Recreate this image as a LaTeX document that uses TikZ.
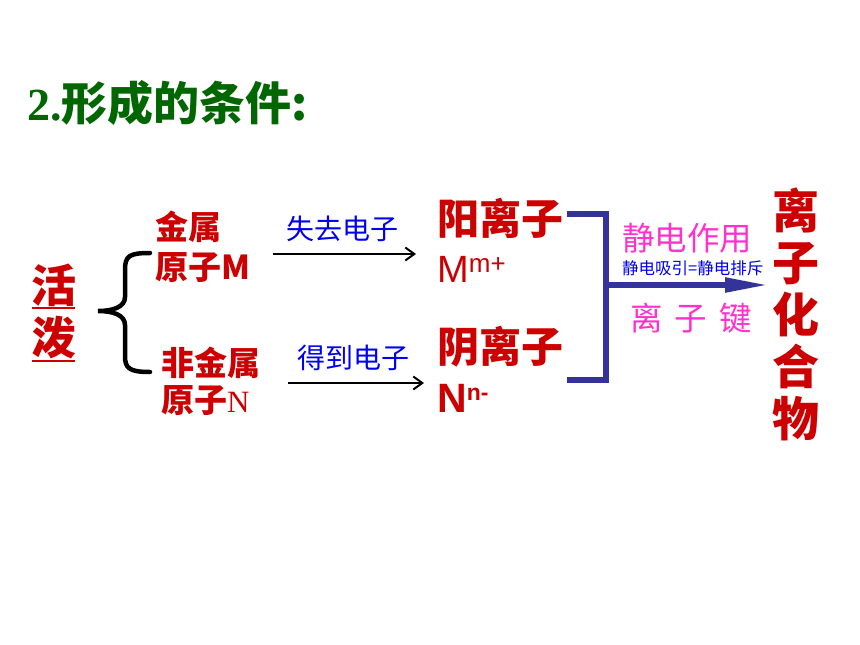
\documentclass[tikz,border=0pt]{standalone}
\usepackage{fontspec}
\usepackage{tikz}
\usetikzlibrary{arrows.meta}
\newfontfamily\cjk{Noto Sans CJK SC}
\newfontfamily\tnr{Liberation Serif}
\newfontfamily\arial{Liberation Sans}
\definecolor{deepred}{RGB}{204,0,0}
\definecolor{titlegreen}{RGB}{0,102,0}
\definecolor{bondblue}{RGB}{51,51,153}
\definecolor{pinkish}{RGB}{255,51,204}
\definecolor{textblue}{RGB}{0,0,240}

\begin{document}
\begin{tikzpicture}[x = 1pt, y = -1pt, inner sep = 0,
  redbig/.style = {text = deepred, anchor = base west, font = \cjk\bfseries\fontsize{42}{44}\selectfont},
  redmid/.style = {text = deepred, anchor = base west, font = \cjk\bfseries\fontsize{33}{36}\selectfont},
  bluelab/.style = {text = textblue, anchor = base west, font = \cjk\fontsize{28}{30}\selectfont},
  pinklab/.style = {text = pinkish, anchor = base west, font = \cjk\fontsize{32.5}{34}\selectfont},
  thinarrow/.style = {line width = 2pt, -{Straight Barb[length = 9pt, width = 13pt]}}]
  \useasboundingbox (0, 0) rectangle (860, 645);
  % title
  \node [anchor = base west, text = titlegreen] (title) at (27, 120)
    {{\tnr\bfseries\fontsize{46}{48}\selectfont 2.}{\cjk\bfseries\fontsize{46}{48}\selectfont 形成的条件:}};
  % active
  \node [redbig, font = \cjk\bfseries\fontsize{45}{46}\selectfont] (huo) at (31, 302) {活};
  \node [redbig, font = \cjk\bfseries\fontsize{45}{46}\selectfont] (po) at (31, 354) {泼};
  \draw [deepred, line width = 2pt] (32, 308) -- (75, 308);
  \draw [deepred, line width = 2pt] (32, 361) -- (75, 361);
  \draw [line width = 4.5pt, line cap = round]
    (150, 253) .. controls (129, 253) and (125, 256) .. (125, 270) -- (125, 297)
    .. controls (125, 307) and (113, 311) .. (98, 311)
    .. controls (113, 311) and (125, 315) .. (125, 325) -- (125, 356)
    .. controls (125, 368) and (129, 372) .. (150, 372);
  % metal / non-metal atoms
  \node [redmid] (metal) at (155, 239) {金属};
  \node [redmid] (metalM) at (155, 279) {原子M};
  \node [redmid] (nonmetal) at (161, 375) {非金属};
  \node [redmid] (nonmetalN) at (161, 412) {原子{\tnr\mdseries\fontsize{31}{33}\selectfont N}};
  % electron transfer
  \coordinate (lose1) at (273, 254);
  \coordinate (lose2) at (416, 254);
  \coordinate (gain1) at (288, 383);
  \coordinate (gain2) at (424, 383);
  \draw [thinarrow] (lose1) -- (lose2);
  \draw [thinarrow] (gain1) -- (gain2);
  \node [bluelab] (lose) at (286, 239) {失去电子};
  \node [bluelab] (gain) at (297, 368) {得到电子};
  % ions
  \node [redbig] (cation) at (437, 234) {阳离子};
  \node [anchor = base west, text = deepred] (cationM) at (437, 282)
    {\arial\fontsize{38}{40}\selectfont M\raisebox{10pt}{\fontsize{26}{28}\selectfont m+}};
  \node [redbig] (anion) at (437, 362) {阴离子};
  \node [anchor = base west, text = deepred] (anionN) at (437, 412)
    {\arial\bfseries\fontsize{41}{43}\selectfont N\raisebox{12pt}{\fontsize{23}{25}\selectfont n-}};
  % bond
  \coordinate (bt) at (567, 214);
  \coordinate (bb) at (567, 380);
  \coordinate (bm) at (606, 285);
  \coordinate (bend) at (768, 285);
  \draw [bondblue, line width = 5.5pt] (bt) -- (bm |- bt) -- (bm |- bb) -- (bb);
  \draw [bondblue, line width = 5.5pt, -{Triangle[length = 43pt, width = 14pt]}] (bm) -- (bend);
  \node [pinklab] (force) at (622, 250) {静电作用};
  \node [anchor = base west, text = textblue, font = \cjk\fontsize{16.5}{18}\selectfont] (balance) at (622, 274) {静电吸引=静电排斥};
  \node [pinklab] (ionbond) at (630, 330) {离\hspace{12pt}子\hspace{12pt}键};
  % ionic compound
  \foreach \c [count = \i] in {离, 子, 化, 合, 物}
    \node [redbig, font = \cjk\bfseries\fontsize{47}{48}\selectfont] (comp\i) at (772, 176 + 52*\i) {\c};
\end{tikzpicture}
\end{document}
